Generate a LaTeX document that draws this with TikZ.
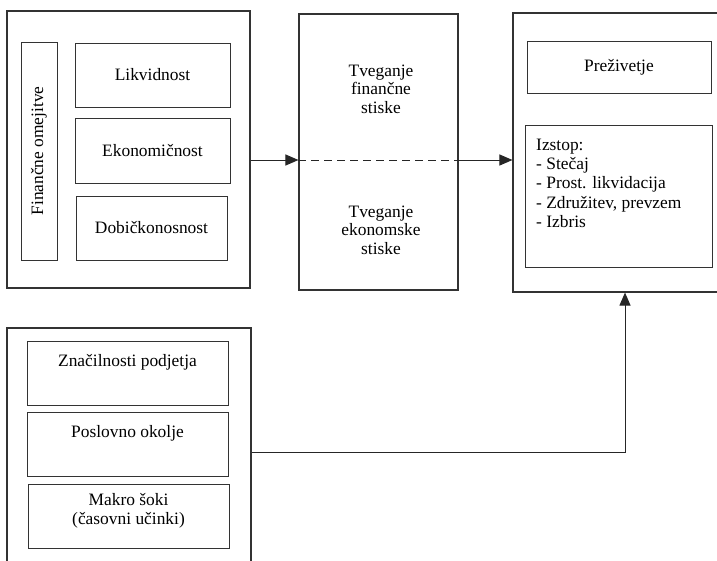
\documentclass[tikz,border=0pt]{standalone}
\usepackage{fontspec}
\setmainfont{Liberation Serif}
\usetikzlibrary{arrows.meta}
\begin{document}
\begin{tikzpicture}[x=1pt,y=-1pt,
  outer/.style={draw=black!80, line width=1.1pt, inner sep=0pt},
  inbox/.style={draw=black!80, line width=1pt, inner sep=0pt, font=\fontsize{17.4}{18.5}\selectfont, align=center},
  txt/.style={font=\fontsize{17.4}{18.5}\selectfont, align=center, inner sep=0pt},
  conn/.style={draw=black!85, line width=1pt},
  tipr/.style={-{Triangle[length=13pt,width=11pt]}}]
\useasboundingbox (0,0) rectangle (717,560);
\clip (0,0) rectangle (717,560);
% top left group
\node[outer, minimum width=243, minimum height=277] (A) at (128.5,149.5) {};
\node[inbox, minimum width=36, minimum height=218] (fin) at (39,151) {};
\node[txt, rotate=90] (fintxt) at (fin.center) {Finančne omejitve};
\node[inbox, minimum width=155, minimum height=64] (lik) at (152.5,75) {Likvidnost};
\node[inbox, minimum width=155, minimum height=65] (eko) at (152.5,150.5) {Ekonomičnost};
\node[inbox, minimum width=151, minimum height=64] (dob) at (151.5,228) {Dobičkonosnost};
% middle
\node[outer, minimum width=159, minimum height=276] (B) at (378.5,152) {};
\node[txt] (bt1) at (381,89) {Tveganje\\finančne\\stiske};
\node[txt] (bt2) at (381,230) {Tveganje\\ekonomske\\stiske};
% right
\node[outer, minimum width=207, minimum height=279] (C) at (616.5,152.5) {};
\node[inbox, minimum width=184, minimum height=52] (pre) at (619,67) {Preživetje};
\node[inbox, minimum width=187, minimum height=142] (izs) at (618.5,196) {};
\node[txt, align=left, anchor=north west, font=\fontsize{17.4}{19.2}\selectfont] (izstxt) at (536,139) {Izstop:\\- Stečaj\\- Prost. likvidacija\\- Združitev, prevzem\\- Izbris};
% bottom left
\node[outer, minimum width=244, minimum height=250] (D) at (129,453) {};
\node[inbox, minimum width=201, minimum height=64] (zna) at (127.5,373) {};
\node[txt] (znatxt) at (127.5,362) {Značilnosti podjetja};
\node[inbox, minimum width=201, minimum height=64] (pos) at (127.5,444) {};
\node[txt] (postxt) at (127.5,433) {Poslovno okolje};
\node[inbox, minimum width=201, minimum height=64] (mak) at (128.5,516) {};
\node[txt] (maktxt) at (128.5,511) {Makro šoki\\(časovni učinki)};
% connectors
\coordinate (ymid) at (0,160);
\coordinate (ylow) at (0,452);
\coordinate (xturn) at (625,0);
\draw[conn, tipr] (A.east |- ymid) -- (B.west |- ymid);
\draw[conn, dash pattern=on 8pt off 5pt] (B.west |- ymid) -- (B.east |- ymid);
\draw[conn, tipr] (B.east |- ymid) -- (C.west |- ymid);
\draw[conn, tipr] (D.east |- ylow) -| (C.south -| xturn);
\end{tikzpicture}
\end{document}
